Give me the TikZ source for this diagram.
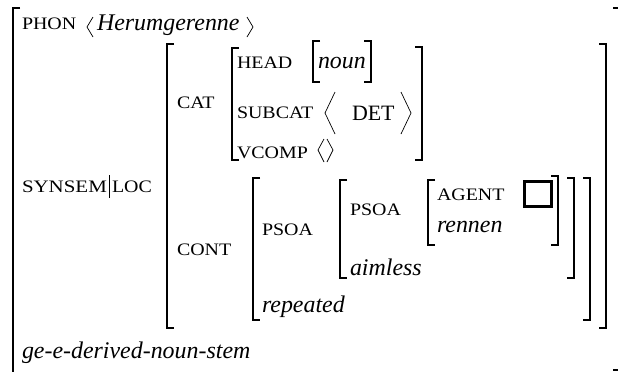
\documentclass[tikz,border=0pt]{standalone}
\usepackage{fontspec}
\setmainfont{Liberation Serif}
\usepackage{graphicx}
\newcommand\smc[1]{\scalebox{1}[0.88]{\fontsize{20}{20}\selectfont #1}}
\newcommand\lbrk[3]{\draw[brk] ({#1+7},#2) -- (#1,#2) -- (#1,#3) -- ({#1+7},#3);}
\newcommand\rbrk[3]{\draw[brk] ({#1-7},#2) -- (#1,#2) -- (#1,#3) -- ({#1-7},#3);}
\begin{document}
\begin{tikzpicture}[x=1bp,y=-1bp,
  lbl/.style={anchor=base west, inner sep=0pt, outer sep=0pt},
  it/.style={lbl, font=\fontsize{24}{24}\selectfont\itshape},
  brk/.style={line width=1.1bp},
  ang/.style={line width=0.7bp}]
\useasboundingbox (0,0) rectangle (618,371);
\clip (0,0) rectangle (618,371);
% outer brackets
\draw[brk] (20,8) -- (13,8) -- (13,375);
\draw[brk] (613,8) -- (620,8) -- (620,370) -- (613,370);
% PHON
\node[lbl] (phon) at (22,29) {\smc{PHON}};
\draw[ang] (93,17) -- (87,27) -- (93,37);
\node[it] (herum) at (97,30) {Herumgerenne};
\draw[ang] (247,17) -- (253,27) -- (247,37);
% SYNSEM|LOC
\node[lbl] (synsem) at (22,192) {\scalebox{1.05}[1]{\smc{SYNSEM}}};
\draw[line width=0.7bp] (109,175) -- (109,198);
\node[lbl] (loc) at (112,192) {\smc{LOC}};
\lbrk{167}{44}{328}
\rbrk{606}{44}{328}
% CAT
\node[lbl] (cat) at (177,108) {\smc{CAT}};
\lbrk{232}{48}{160}
\rbrk{422}{47}{160}
\node[lbl] (head) at (237,68) {\smc{HEAD}};
\lbrk{313}{41}{82}
\node[it] (noun) at (318,68) {noun};
\rbrk{371}{41}{82}
\node[lbl] (subcat) at (237,118) {\smc{SUBCAT}};
\draw[ang] (335,92) -- (325,113) -- (335,134);
\node[lbl, font=\fontsize{22}{22}\selectfont] (det) at (352,120) {DET};
\draw[ang] (401,92) -- (411,113) -- (401,134);
\node[lbl] (vcomp) at (237,158) {\smc{VCOMP}};
\draw[ang] (324,139) -- (318,150) -- (324,162);
\draw[ang] (327,139) -- (333,150) -- (327,162);
% CONT
\node[lbl] (cont) at (177,255) {\smc{CONT}};
\lbrk{253}{178}{320}
\rbrk{590}{178}{320}
\node[lbl] (psoa1) at (262,235) {\smc{PSOA}};
\node[it] (repeated) at (262,312) {repeated};
\lbrk{340}{180}{278}
\rbrk{574}{178}{278}
\node[lbl] (psoa2) at (350,215) {\smc{PSOA}};
\node[it] (aimless) at (350,275) {aimless};
\lbrk{428}{180}{245}
\rbrk{558}{176}{245}
\node[lbl] (agent) at (437,200) {\smc{AGENT}};
\node[it] (rennen) at (437,232) {rennen};
\node[draw, line width=3bp, minimum width=27bp, minimum height=25bp, inner sep=0pt] (tag) at (538,194) {};
% type
\node[it] (type) at (22,358) {ge-e-derived-noun-stem};
\end{tikzpicture}
\end{document}
